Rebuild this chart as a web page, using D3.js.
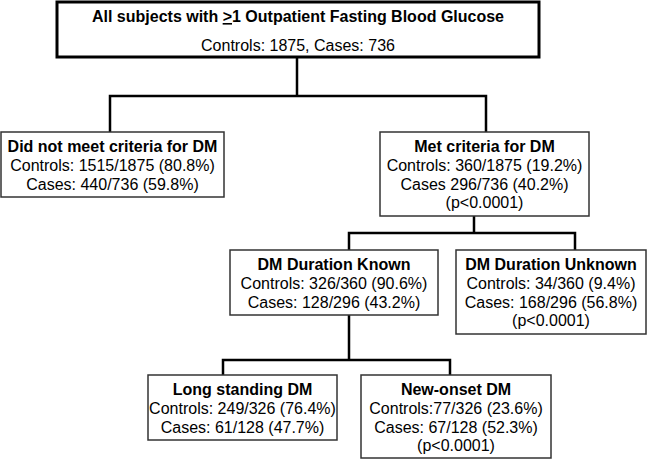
<!DOCTYPE html>
<html>
<head>
<meta charset="utf-8">
<script src="https://cdn.jsdelivr.net/npm/d3@7"></script>
<style>
  html, body { margin: 0; padding: 0; background: #fff; }
  svg { display: block; font-family: "Liberation Sans", Arial, sans-serif; }
</style>
</head>
<body>
<svg id="chart" width="647" height="460"></svg>
<script>
// ---- data ----
const nodeIds = ["all", "notMet", "met", "known", "unknown", "longStanding", "newOnset"];
const nodeTitles = [
  "All subjects with >1 Outpatient Fasting Blood Glucose",
  "Did not meet criteria for DM",
  "Met criteria for DM",
  "DM Duration Known",
  "DM Duration Unknown",
  "Long standing DM",
  "New-onset DM"
];
const controlsText = [
  "Controls: 1875, Cases: 736",
  "Controls: 1515/1875 (80.8%)",
  "Controls: 360/1875 (19.2%)",
  "Controls: 326/360 (90.6%)",
  "Controls: 34/360 (9.4%)",
  "Controls: 249/326 (76.4%)",
  "Controls:77/326 (23.6%)"
];
const casesText = [
  "",
  "Cases: 440/736 (59.8%)",
  "Cases 296/736 (40.2%)",
  "Cases: 128/296 (43.2%)",
  "Cases: 168/296 (56.8%)",
  "Cases: 61/128 (47.7%)",
  "Cases: 67/128 (52.3%)"
];
const pValueText = ["", "", "(p<0.0001)", "", "(p<0.0001)", "", "(p<0.0001)"];
const edges = [["all", ["notMet", "met"]], ["met", ["known", "unknown"]], ["known", ["longStanding", "newOnset"]]];

// ---- layout (positions only) ----
const layout = {
  all:          {x: 57,  y: 2,   w: 482, h: 55, sw: 3},
  notMet:       {x: 1,   y: 132, w: 223, h: 65, sw: 1.5},
  met:          {x: 380, y: 132, w: 209, h: 84, sw: 1.5},
  known:        {x: 230, y: 250, w: 208, h: 65, sw: 1.5},
  unknown:      {x: 456, y: 250, w: 190, h: 84, sw: 1.5},
  longStanding: {x: 148, y: 375, w: 189, h: 65, sw: 1.5},
  newOnset:     {x: 361, y: 375, w: 190, h: 83, sw: 1.5}
};
const connectors = {
  all:   {px: 297, barY: 96,  cx: [110, 486]},
  met:   {px: 474, barY: 233, cx: [349, 575]},
  known: {px: 349, barY: 360, cx: [223, 450]}
};

const svg = d3.select("#chart");

// connectors
const lineG = svg.append("g").attr("stroke", "#000").attr("stroke-width", 2.5).attr("fill", "none");
edges.forEach(([parent, kids]) => {
  const p = layout[parent], c = connectors[parent];
  const path = d3.path();
  path.moveTo(c.px, p.y + p.h);
  path.lineTo(c.px, c.barY);
  path.moveTo(c.cx[0], layout[kids[0]].y);
  path.lineTo(c.cx[0], c.barY);
  path.lineTo(c.cx[1], c.barY);
  path.lineTo(c.cx[1], layout[kids[1]].y);
  lineG.append("path").attr("d", path.toString()).attr("stroke-linejoin", "miter");
});

// boxes
const nodes = nodeIds.map((id, i) => ({
  id, title: nodeTitles[i], lines: [controlsText[i], casesText[i], pValueText[i]].filter(s => s)
}));

const g = svg.selectAll("g.node").data(nodes).join("g").attr("class", "node");
g.append("rect")
  .attr("x", d => layout[d.id].x)
  .attr("y", d => layout[d.id].y)
  .attr("width", d => layout[d.id].w)
  .attr("height", d => layout[d.id].h)
  .attr("fill", "#fff")
  .attr("stroke", d => d.id === "all" ? "#000" : "#333")
  .attr("stroke-width", d => layout[d.id].sw);

g.each(function(d) {
  const L = layout[d.id];
  const cx = L.x + L.w / 2;
  const sel = d3.select(this);
  const isTop = d.id === "all";
  const t = sel.append("text")
    .attr("x", cx)
    .attr("y", isTop ? L.y + 20 : L.y + 20)
    .attr("text-anchor", "middle")
    .attr("font-weight", "bold")
    .attr("font-size", 16)
    .attr("fill", "#000");
  if (isTop) {
    const parts = d.title.split(">");
    t.append("tspan").text(parts[0]);
    t.append("tspan").style("text-decoration", "underline").text(">");
    t.append("tspan").text(parts[1]);
  } else {
    t.text(d.title);
  }
  d.lines.forEach((line, j) => {
    sel.append("text")
      .attr("x", cx)
      .attr("y", isTop ? L.y + 48.5 : L.y + 20 + 18.8 * (j + 1))
      .attr("text-anchor", "middle")
      .attr("font-size", 16)
      .attr("fill", "#000")
      .text(line);
  });
});
</script>
</body>
</html>
